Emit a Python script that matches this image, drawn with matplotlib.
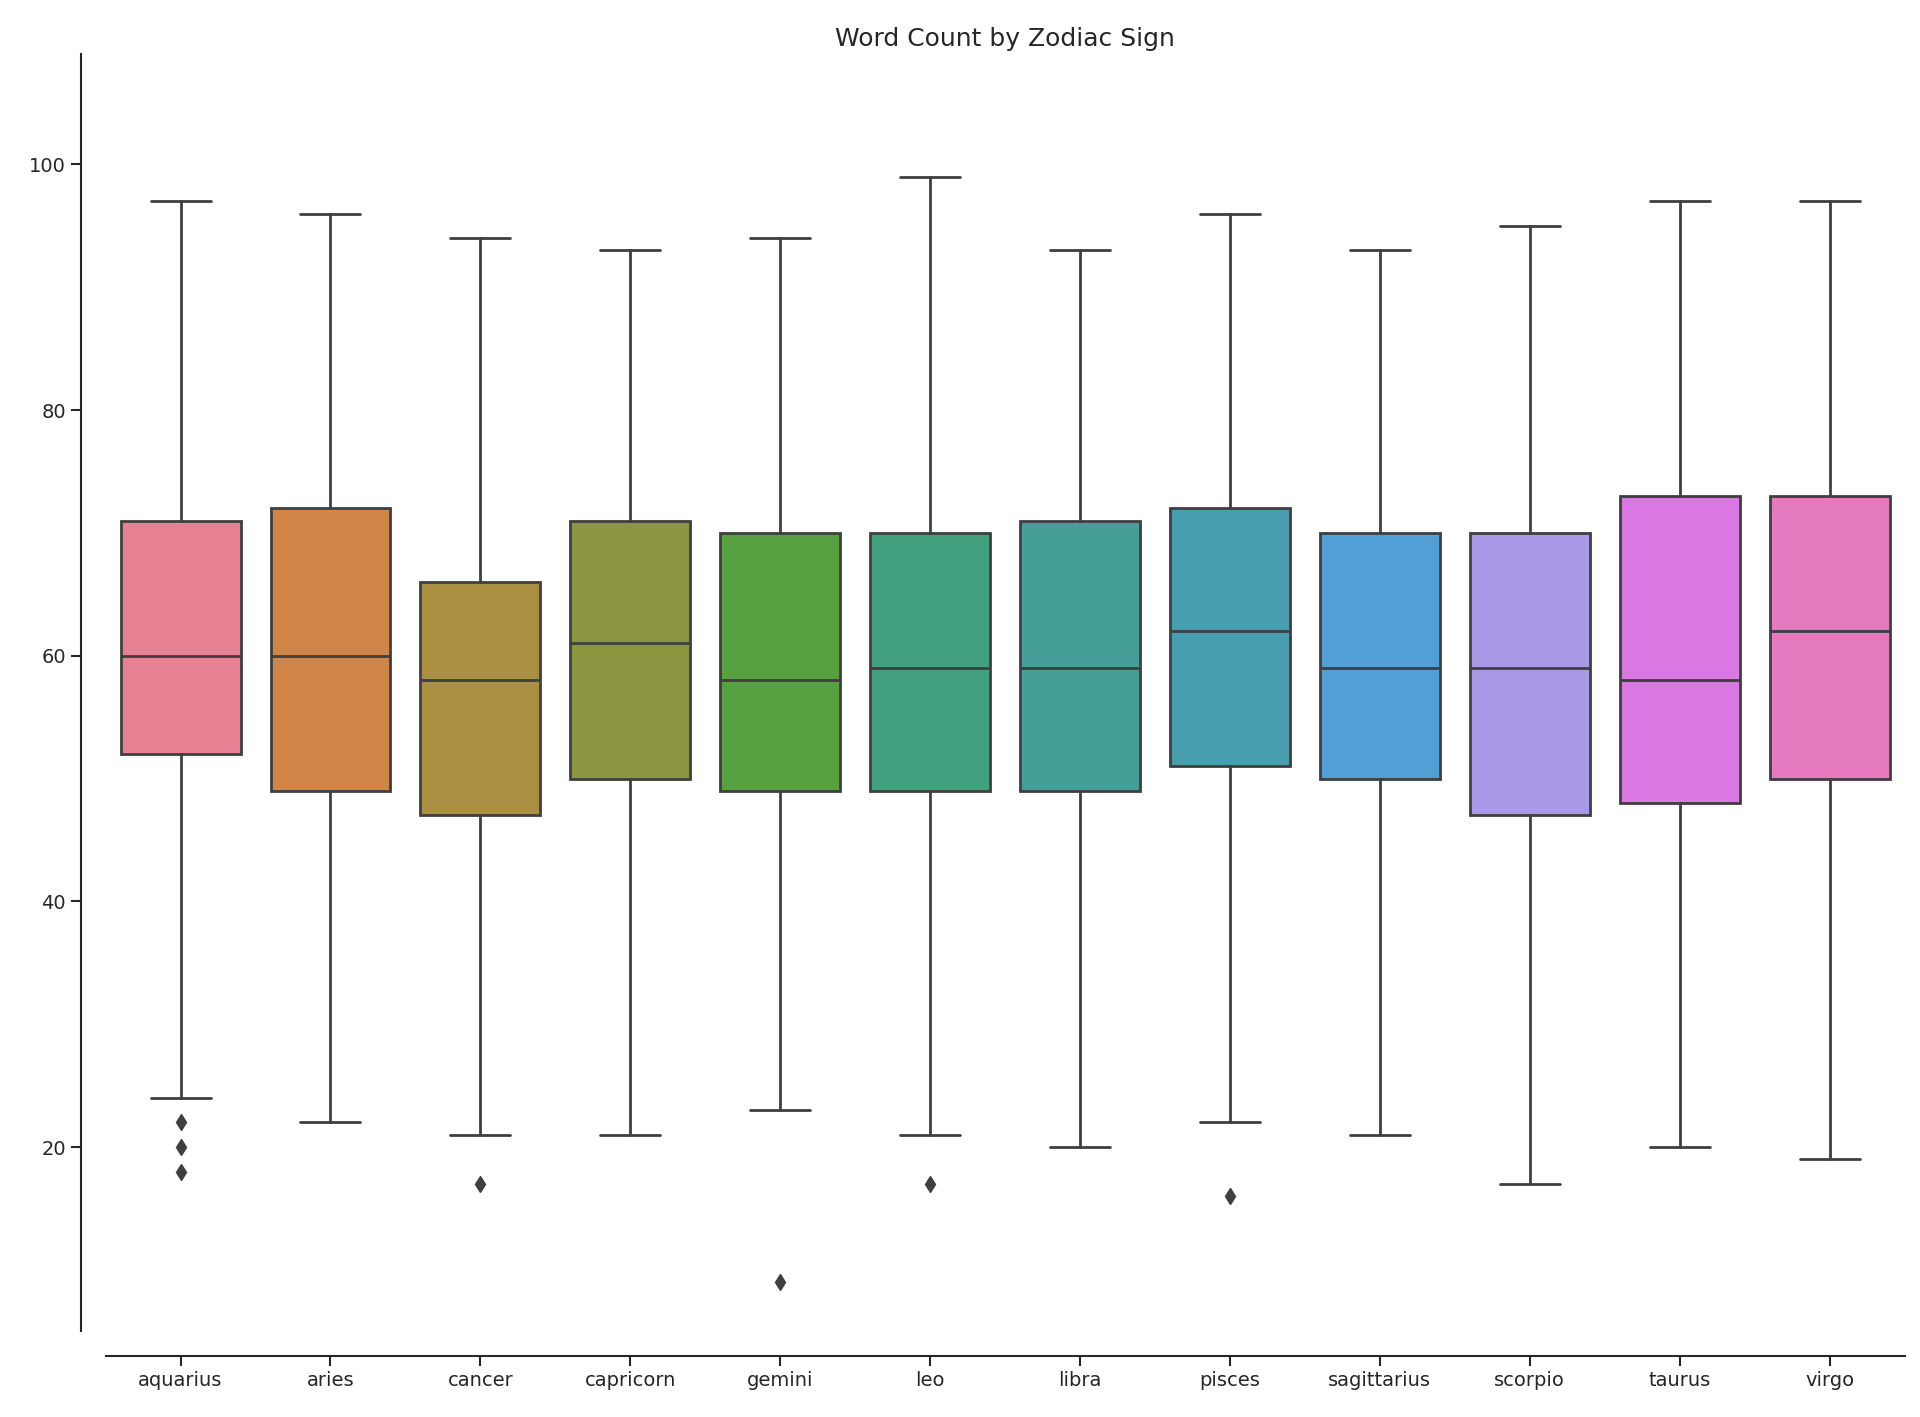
import matplotlib
matplotlib.use("Agg")
import matplotlib.pyplot as plt
import seaborn as sns

signs = ['aquarius', 'aries', 'cancer', 'capricorn', 'gemini', 'leo', 'libra',
         'pisces', 'sagittarius', 'scorpio', 'taurus', 'virgo']
whislo = [24, 22, 21, 21, 23, 21, 20, 22, 21, 17, 20, 19]
q1 = [52, 49, 47, 50, 49, 49, 49, 51, 50, 47, 48, 50]
med = [60, 60, 58, 61, 58, 59, 59, 62, 59, 59, 58, 62]
q3 = [71, 72, 66, 71, 70, 70, 71, 72, 70, 70, 73, 73]
whishi = [97, 96, 94, 93, 94, 99, 93, 96, 93, 95, 97, 97]
fliers = [[22, 20, 18], [], [17], [], [9], [17], [], [16], [], [], [], []]

sns.set_style("ticks")
pal = [sns.desaturate(c, 0.75) for c in sns.color_palette("husl", len(signs))]
gray = "#3f3f3f"

stats = []
for i, s in enumerate(signs):
    stats.append(dict(label=s, whislo=whislo[i], q1=q1[i], med=med[i],
                      q3=q3[i], whishi=whishi[i], fliers=fliers[i]))

fig = plt.figure(figsize=(19.2, 14.17), dpi=100)
ax = fig.add_axes([0.055, 0.0605, 0.937, 0.9015])
lw = 2.0
bp = ax.bxp(stats, positions=range(len(signs)), widths=0.8, patch_artist=True,
            boxprops=dict(edgecolor=gray, linewidth=lw),
            medianprops=dict(color=gray, linewidth=lw),
            whiskerprops=dict(color=gray, linewidth=lw),
            capprops=dict(color=gray, linewidth=lw),
            flierprops=dict(marker='d', markerfacecolor=gray, markeredgecolor=gray,
                            markersize=8))
for patch, c in zip(bp['boxes'], pal):
    patch.set_facecolor(c)

ax.set_xlim(-0.5, len(signs) - 0.5)
ax.set_ylim(5, 109)
ax.set_yticks([20, 40, 60, 80, 100])
ax.tick_params(labelsize=14, width=1.5, length=7)
ax.set_title("Word Count by Zodiac Sign", fontsize=18)
for sp in ['left', 'bottom']:
    ax.spines[sp].set_linewidth(1.5)
sns.despine(ax=ax, offset=18)

fig.savefig("out.png", dpi=100)
